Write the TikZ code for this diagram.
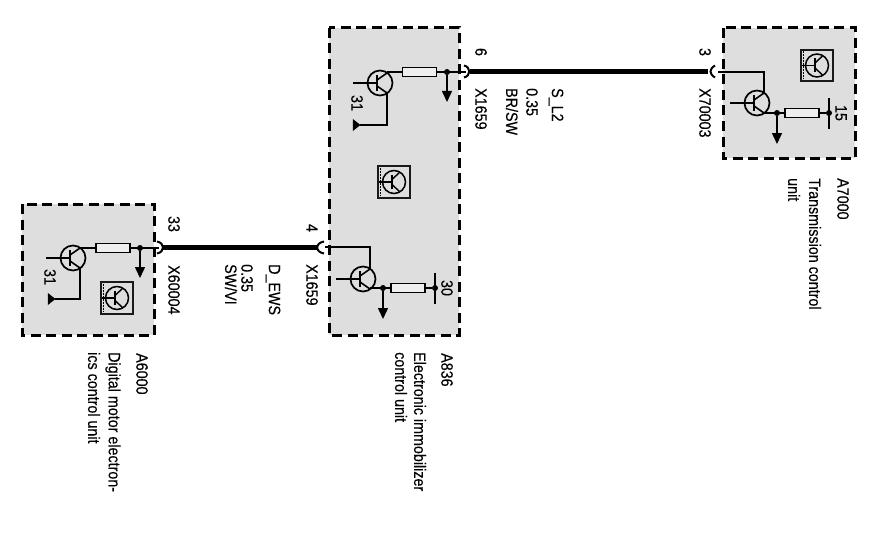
\documentclass[tikz,border=0pt]{standalone}
\usepackage{fontspec}
\setmainfont{Liberation Sans}
\usetikzlibrary{arrows.meta}
\definecolor{boxgrey}{HTML}{DEDEDE}
\newcommand{\lblfont}{\fontsize{14.3}{16}\selectfont\addfontfeature{FakeBold=0.25}}
\tikzset{
  x=1pt,y=-1pt,
  unitbox/.style={draw=black,fill=boxgrey,line width=3pt,dash pattern=on 10pt off 5.5pt},
  wire/.style={line width=1.5pt,draw=black},
  busa/.style={line width=5.5pt,draw=black},
  busb/.style={line width=4.5pt,draw=black},
  fork/.style={line width=2pt,draw=black},
  lbl/.style={rotate=-90,yscale=1.15,anchor=west,inner sep=0pt,font=\lblfont,text=black},
  pinlbl/.style={rotate=-90,yscale=1.15,anchor=center,inner sep=0pt,font=\lblfont,text=black},
  resistor/.style={draw=black,line width=1.7pt,fill=boxgrey!50,minimum width=34pt,minimum height=9pt,inner sep=0pt},
  dotnode/.style={circle,fill=black,inner sep=0pt,minimum size=6pt},
  iconbox/.style={draw=black!90,line width=1.7pt,fill=boxgrey,minimum size=31.5pt,inner sep=0pt},
  down arrow/.style={line width=1.5pt,-{Triangle[length=11pt,width=10pt]}},
  gndhead/.style={fill=black,draw=black,line width=0.5pt},
  trans/.pic={
    \draw[line width=1.7pt] (0,0) circle (12.5);
    \draw[line width=2.2pt] (-3,-8) -- (-3,8);
    \draw[line width=1.6pt] (-3,-3) -- (7,-10);
    \draw[line width=1.6pt] (-3,3) -- (7,10);
    \draw[line width=1.5pt] (-27,0) -- (-3,0);
  },
  smalltrans/.pic={
    \draw[line width=1.5pt] (0,0) circle (11.5);
    \draw[line width=1.9pt] (-2,-7) -- (-2,7);
    \draw[line width=1.4pt] (-2,-2.5) -- (6,-10);
    \draw[line width=1.4pt] (-2,2.5) -- (6,10);
    \draw[line width=1.4pt] (-15,0) -- (-2,0);
    \draw[line width=1.3pt,dash pattern=on 1.5pt off 1.5pt] (-13.5,-14) -- (-13.5,14);
  }
}
\begin{document}
\begin{tikzpicture}
\useasboundingbox (0,0) rectangle (879,551);
% unit boxes
\draw[unitbox] (22,204) rectangle (154,335);
\draw[unitbox] (329,28) rectangle (459,335);
\draw[unitbox] (723,28) rectangle (855,158);

% A6000
\pic at (73,258) {trans};
\coordinate (aUp) at (80,248);
\coordinate (aLo) at (80,268);
\coordinate (aBend) at (80,299);
\coordinate (aGnd) at (55,299);
\coordinate (aEnd) at (159,248);
\coordinate (aArrow) at (140,278);
\node[resistor] (aR) at (113,248) {};
\node[dotnode] (aD) at (140,248) {};
\draw[wire] (aUp) -- (aR.west);
\draw[wire] (aR.east) -- (aEnd);
\draw[down arrow] (aD) -- (aArrow);
\draw[wire] (aLo) -- (aBend) -- (aGnd);
\fill[gndhead] (48,293.5) -- (48,304.5) -- (55,299) -- cycle;
\node[iconbox] (aI) at (117,298) {};
\pic at (117,298) {smalltrans};

% A836 upper
\pic at (380,83) {trans};
\coordinate (bUp) at (387,72);
\coordinate (bLo) at (387,93);
\coordinate (bBend) at (387,125);
\coordinate (bGnd) at (360,125);
\coordinate (bEnd) at (466,72);
\coordinate (bArrow) at (447,102);
\node[resistor] (bR) at (419.5,72) {};
\node[dotnode] (bD) at (447,72) {};
\draw[wire] (bUp) -- (bR.west);
\draw[wire] (bR.east) -- (bEnd);
\draw[down arrow] (bD) -- (bArrow);
\draw[wire] (bLo) -- (bBend) -- (bGnd);
\fill[gndhead] (353,119.5) -- (353,130.5) -- (360,125) -- cycle;
\node[iconbox] (bI) at (394,182) {};
\pic at (394,182) {smalltrans};

% A836 lower
\pic at (363,279) {trans};
\coordinate (cUp) at (370,269);
\coordinate (cTop) at (370,247);
\coordinate (cEnd) at (325,247);
\coordinate (cLo) at (370,288);
\coordinate (cArrow) at (383,319);
\coordinate (cBarA) at (435,273);
\coordinate (cBarB) at (435,304);
\node[resistor] (cR) at (408,288) {};
\node[dotnode] (cD) at (383,288) {};
\node[dotnode] (cP) at (435,288) {};
\draw[wire] (cUp) -- (cTop) -- (cEnd);
\draw[wire] (cLo) -- (cR.west);
\draw[wire] (cR.east) -- (cP);
\draw[wire] (cBarA) -- (cBarB);
\draw[down arrow] (cD) -- (cArrow);

% A7000
\pic at (757,103) {trans};
\coordinate (dUp) at (764,93);
\coordinate (dTop) at (764,72);
\coordinate (dEnd) at (718,72);
\coordinate (dLo) at (764,113);
\coordinate (dArrow) at (777,144);
\coordinate (dBarA) at (829,98);
\coordinate (dBarB) at (829,129);
\node[resistor] (dR) at (802,113) {};
\node[dotnode] (dD) at (777,113) {};
\node[dotnode] (dP) at (829,113) {};
\draw[wire] (dUp) -- (dTop) -- (dEnd);
\draw[wire] (dLo) -- (dR.west);
\draw[wire] (dR.east) -- (dP);
\draw[wire] (dBarA) -- (dBarB);
\draw[down arrow] (dD) -- (dArrow);
\node[iconbox] (dI) at (817,65.5) {};
\pic at (817,65.5) {smalltrans};

% main wires
\coordinate (w1a) at (163,247.5);
\coordinate (w1b) at (318,247.5);
\coordinate (w2a) at (470,71.5);
\coordinate (w2b) at (708,71.5);
\draw[busa] (w1a) -- (w1b);
\draw[busb] (w2a) -- (w2b);

% connector forks
\draw[fork] (157,241.5) .. controls (165,243) and (165,252) .. (157,253.5);
\draw[fork] (324,241.5) .. controls (315,243) and (315,252) .. (324,253.5);
\draw[fork] (464,65.5) .. controls (471,67) and (471,76) .. (464,77.5);
\draw[fork] (715,65.5) .. controls (709,69) and (709,74) .. (715,77.5);

% pin labels
\node[pinlbl] (l33) at (174,224) {33};
\node[pinlbl] (l4) at (312,228) {4};
\node[pinlbl] (l6) at (481,52) {6};
\node[pinlbl] (l3) at (705,52) {3};
\node[pinlbl] (l31a) at (50,277) {31};
\node[pinlbl] (l31b) at (357,103) {31};
\node[pinlbl] (l30) at (447,288) {30};
\node[pinlbl] (l15) at (841,113) {15};

% connector and wire labels
\node[lbl] (xa) at (174,265) {X60004};
\node[lbl] (xb) at (312,264) {X1659};
\node[lbl] (xc) at (481,88) {X1659};
\node[lbl] (xd) at (705,88) {X70003};
\node[lbl] (w1n) at (273,264) {D\_EWS};
\node[lbl] (w1s) at (247,264) {0.35};
\node[lbl] (w1c) at (231,264) {SW/VI};
\node[lbl] (w2n) at (556,88) {S\_L2};
\node[lbl] (w2s) at (532,88) {0.35};
\node[lbl] (w2c) at (512,88) {BR/SW};

% unit labels
\node[lbl] (ua) at (142,353) {A6000};
\node[lbl] (ua1) at (113,352) {Digital motor electron-};
\node[lbl] (ua2) at (94,352) {ics control unit};
\node[lbl] (ub) at (447,353) {A836};
\node[lbl] (ub1) at (420,352) {Electronic immobilizer};
\node[lbl] (ub2) at (401,352) {control unit};
\node[lbl] (ud) at (843,178) {A7000};
\node[lbl] (ud1) at (815,178) {Transmission control};
\node[lbl] (ud2) at (794,178) {unit};
\end{tikzpicture}
\end{document}
